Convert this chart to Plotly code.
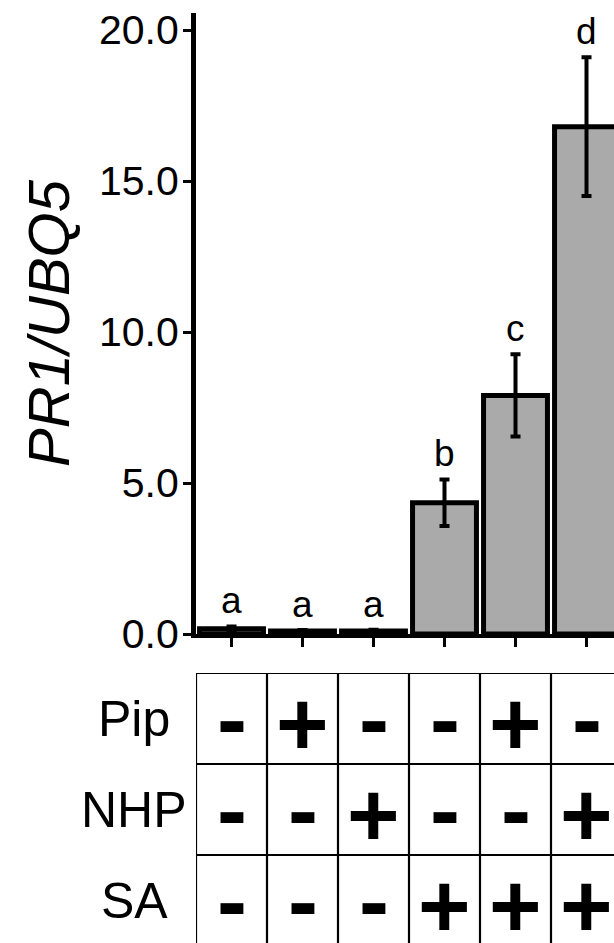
import plotly.graph_objects as go

# Treatment combinations (one column per sample)
samples = ["1", "2", "3", "4", "5", "6"]
pip = ["-", "+", "-", "-", "+", "-"]
nhp = ["-", "-", "+", "-", "-", "+"]
sa = ["-", "-", "-", "+", "+", "+"]
row_labels = ["Pip", "NHP", "SA"]

# Relative PR1 expression (PR1/UBQ5), mean and error
means = [0.17, 0.10, 0.10, 4.35, 7.90, 16.80]
errors = [0.08, 0.03, 0.04, 0.77, 1.36, 2.30]
groups = ["a", "a", "a", "b", "c", "d"]

tick_vals = [0, 5, 10, 15, 20]

FONT = "Liberation Sans, Arial, Helvetica, sans-serif"
W, H = 614, 943
L, T = 196, 13
plot_h = H - T
zero_px = 634          # pixel row of y = 0
table_top_px = 673     # top edge of the treatment table
px_per_unit = 30.2
row_px = 91

# vertical nudge (px) so both glyphs sit centred in their cells
glyph_shift = {"+": -5, "-": 0}

x_idx = list(range(len(samples)))
x_max = -0.5 + (W - L) / 71.0

fig = go.Figure()

fig.add_trace(go.Bar(
    x=x_idx, y=means, width=0.9,
    marker=dict(color="#aaaaaa", line=dict(color="black", width=5)),
    error_y=dict(type="data", array=errors, visible=True,
                 color="black", thickness=4, width=5),
    xaxis="x", yaxis="y", showlegend=False, hoverinfo="skip",
))

# Significance letters above each bar
for i, (m, e, g) in enumerate(zip(means, errors, groups)):
    fig.add_annotation(x=i, y=m + e, xref="x", yref="y", text=g,
                       showarrow=False, yanchor="bottom", yshift=3,
                       font=dict(family=FONT, size=37, color="black"))

# Treatment table: +/- symbols in each cell and row labels
rows = [pip, nhp, sa]
for r, vals in enumerate(rows):
    for i, s in zip(x_idx, vals):
        fig.add_annotation(x=i, y=r + 0.5, xref="x", yref="y2", text=s,
                           showarrow=False, xanchor="center", yanchor="middle",
                           yshift=glyph_shift[s],
                           font=dict(family=FONT, size=90, color="black",
                                     weight="bold"))
    fig.add_annotation(x=-0.148, y=r + 0.5, xref="paper", yref="y2",
                       text=row_labels[r], showarrow=False,
                       xanchor="center", yanchor="middle",
                       font=dict(family=FONT, size=50, color="black"))

# Table grid lines
n_rows = len(rows)
for r in range(n_rows + 1):
    fig.add_shape(type="line", xref="x", yref="y2",
                  x0=-0.5, x1=len(samples) - 0.5, y0=r, y1=r,
                  line=dict(color="black", width=2.2))
for c in range(len(samples) + 1):
    fig.add_shape(type="line", xref="x", yref="y2",
                  x0=c - 0.5, x1=c - 0.5, y0=0, y1=n_rows,
                  line=dict(color="black", width=2.2))

main_bottom = (H - zero_px) / plot_h
table_top = (H - table_top_px) / plot_h
y_top = (zero_px - T) / px_per_unit

fig.update_layout(
    width=W, height=H,
    margin=dict(l=L, r=0, t=T, b=0, pad=0, autoexpand=False),
    paper_bgcolor="white", plot_bgcolor="white",
    font=dict(family=FONT, color="black"),
    xaxis=dict(range=[-0.5, x_max], anchor="y", tickmode="array",
               tickvals=x_idx, ticktext=[""] * len(x_idx),
               ticks="outside", ticklen=9, tickwidth=3, tickcolor="black",
               showline=True, linecolor="black", linewidth=4,
               showgrid=False, zeroline=False, automargin=False),
    yaxis=dict(domain=[main_bottom, 1], range=[0, y_top],
               tickvals=tick_vals, tickformat=".1f",
               ticks="outside", ticklen=8, tickwidth=3, tickcolor="black",
               ticklabelstandoff=-4,
               tickfont=dict(family=FONT, size=41, color="black"),
               showline=True, linecolor="black", linewidth=5,
               showgrid=False, zeroline=False, automargin=False,
               title=dict(text="<i>PR1/UBQ5</i>", standoff=12,
                          font=dict(family=FONT, size=58, color="black"))),
    yaxis2=dict(domain=[0, table_top], range=[(H - table_top_px) / row_px, 0],
                anchor="x", visible=False, showgrid=False, zeroline=False,
                automargin=False),
)

fig.write_html("out.html")
